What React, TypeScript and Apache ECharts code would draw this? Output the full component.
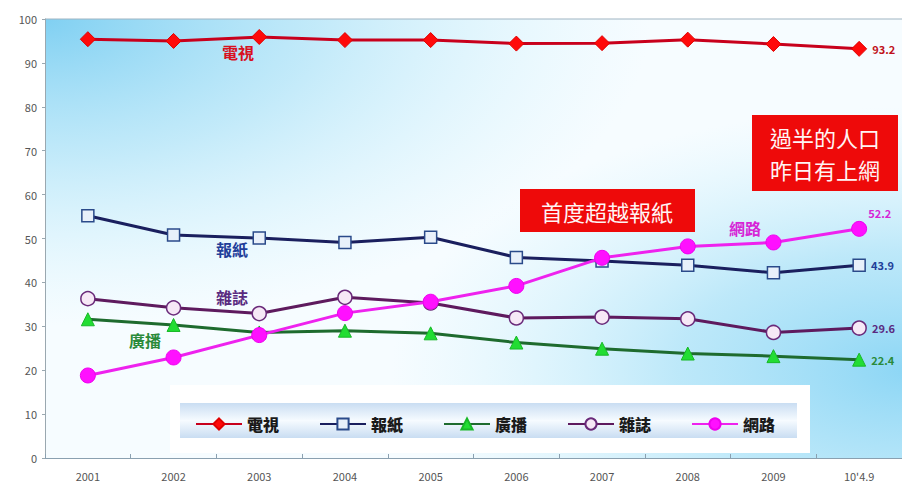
import React, { useEffect, useRef } from "react";
import * as echarts from "echarts";

const years = ["2001", "2002", "2003", "2004", "2005", "2006", "2007", "2008", "2009", "10'4.9"];
const seriesNames = ["電視", "報紙", "廣播", "雜誌", "網路"];
const tv = [95.4, 95.0, 95.9, 95.2, 95.2, 94.4, 94.5, 95.3, 94.3, 93.2];
const newspaper = [55.2, 50.8, 50.1, 49.1, 50.3, 45.7, 44.9, 43.9, 42.2, 43.9];
const radio = [31.6, 30.3, 28.6, 29.0, 28.4, 26.3, 24.9, 23.8, 23.2, 22.4];
const magazine = [36.3, 34.2, 32.9, 36.6, 35.3, 31.9, 32.1, 31.7, 28.6, 29.6];
const internet = [18.8, 22.9, 28.0, 33.0, 35.6, 39.2, 45.6, 48.2, 49.1, 52.2];
const yTicks = [0, 10, 20, 30, 40, 50, 60, 70, 80, 90, 100];
const noteFirst = "首度超越報紙";
const noteHalf = "過半的人口\n昨日有上網";

const FONT = "'Noto Sans CJK TC', 'Noto Sans', sans-serif";

function withEndLabel(values: number[], color: string, offset: number[]) {
  return values.map((v, i) =>
    i === values.length - 1
      ? {
          value: v,
          label: {
            show: true,
            position: "right",
            offset,
            formatter: String(v),
            color,
            fontSize: 11,
            fontWeight: "bold",
            fontFamily: FONT,
          },
        }
      : v
  );
}

const GRID_LEFT = 45;
const GRID_TOP = 19;
const GRID_W = 865;
const GRID_H = 439;

export default function App() {
  const ref = useRef<HTMLDivElement>(null);
  useEffect(() => {
    if (!ref.current) return;
    const chart = echarts.init(ref.current, null, { renderer: "svg" });
    const option: any = {
      animation: false,
      backgroundColor: "#ffffff",
      grid: {
        left: GRID_LEFT,
        top: GRID_TOP,
        width: GRID_W,
        height: GRID_H,
        show: true,
        borderWidth: 0,
        backgroundColor: "#f6fcff",
      },
      xAxis: {
        type: "category",
        data: years,
        boundaryGap: true,
        axisLine: { lineStyle: { color: "#8aa0b0", width: 1 } },
        axisTick: { show: true, inside: true, length: 4, lineStyle: { color: "#8aa0b0" } },
        axisLabel: { color: "#555", fontSize: 11, margin: 12, fontFamily: FONT },
        splitLine: { show: false },
        z: 8,
      },
      yAxis: {
        type: "value",
        min: yTicks[0],
        max: yTicks[yTicks.length - 1],
        interval: 10,
        axisLine: { show: true, lineStyle: { color: "#9aa8b0" } },
        axisTick: { show: true, length: 3, lineStyle: { color: "#9aa8b0" } },
        axisLabel: { color: "#555", fontSize: 11, margin: 8, fontFamily: FONT },
        splitLine: { show: false },
        z: 8,
      },
      legend: {
        data: seriesNames,
        left: 190,
        top: 411,
        itemWidth: 46,
        itemHeight: 14,
        itemGap: 40,
        textStyle: { color: "#1a1a1a", fontSize: 16, fontWeight: 900, fontFamily: FONT },
        z: 20,
      },
      graphic: [
        {
          type: "rect",
          shape: { x: GRID_LEFT, y: GRID_TOP, width: GRID_W, height: GRID_H },
          style: {
            fill: new echarts.graphic.RadialGradient(0, 0, 0.7, [
              { offset: 0, color: "rgba(128,208,242,1)" },
              { offset: 0.45, color: "rgba(160,222,246,0.6)" },
              { offset: 1, color: "rgba(200,240,252,0)" },
            ]),
          },
          silent: true,
          z: 1,
        },
        {
          type: "rect",
          shape: { x: GRID_LEFT, y: GRID_TOP, width: GRID_W, height: GRID_H },
          style: {
            fill: new echarts.graphic.RadialGradient(1, 0.8, 0.6, [
              { offset: 0, color: "rgba(140,214,245,1)" },
              { offset: 0.45, color: "rgba(165,224,247,0.7)" },
              { offset: 1, color: "rgba(200,240,252,0)" },
            ]),
          },
          silent: true,
          z: 1,
        },
        {
          type: "line",
          shape: { x1: GRID_LEFT, y1: GRID_TOP, x2: GRID_LEFT + GRID_W, y2: GRID_TOP },
          style: { stroke: "#9fb4c2", lineWidth: 1 },
          silent: true,
          z: 2,
        },
        {
          type: "rect",
          shape: { x: 170, y: 385, width: 640, height: 68 },
          style: { fill: "#ffffff" },
          z: 10,
        },
        {
          type: "rect",
          shape: { x: 180, y: 403, width: 617, height: 35 },
          style: {
            fill: new echarts.graphic.LinearGradient(0, 0, 0, 1, [
              { offset: 0, color: "#c9ddf2" },
              { offset: 0.5, color: "#f6fbff" },
              { offset: 1, color: "#c9ddf2" },
            ]),
          },
          z: 11,
        },
        {
          type: "rect",
          shape: { x: 520, y: 189, width: 175, height: 43 },
          style: { fill: "#ee0a0a" },
          z: 10,
        },
        {
          type: "text",
          x: 607,
          y: 211,
          style: {
            text: noteFirst,
            fill: "#fff4f4",
            fontSize: 22,
            fontFamily: FONT,
            align: "center",
            verticalAlign: "middle",
          },
          z: 11,
        },
        {
          type: "rect",
          shape: { x: 752, y: 115, width: 146, height: 76 },
          style: { fill: "#ee0a0a" },
          z: 10,
        },
        {
          type: "text",
          x: 825,
          y: 153,
          style: {
            text: noteHalf,
            fill: "#fff4f4",
            fontSize: 22,
            lineHeight: 32,
            fontFamily: FONT,
            align: "center",
            verticalAlign: "middle",
          },
          z: 11,
        },
        {
          type: "text",
          x: 238,
          y: 52,
          style: { text: "電視", fill: "#d8101e", fontSize: 16, fontWeight: "bold", fontFamily: FONT, align: "center", verticalAlign: "middle" },
          z: 11,
        },
        {
          type: "text",
          x: 232,
          y: 249,
          style: { text: "報紙", fill: "#1f3f9a", fontSize: 16, fontWeight: "bold", fontFamily: FONT, align: "center", verticalAlign: "middle" },
          z: 11,
        },
        {
          type: "text",
          x: 232,
          y: 297,
          style: { text: "雜誌", fill: "#5a2a80", fontSize: 16, fontWeight: "bold", fontFamily: FONT, align: "center", verticalAlign: "middle" },
          z: 11,
        },
        {
          type: "text",
          x: 145,
          y: 340,
          style: { text: "廣播", fill: "#2a8a3a", fontSize: 16, fontWeight: "bold", fontFamily: FONT, align: "center", verticalAlign: "middle" },
          z: 11,
        },
        {
          type: "text",
          x: 745,
          y: 228,
          style: { text: "網路", fill: "#d625d6", fontSize: 16, fontWeight: "bold", fontFamily: FONT, align: "center", verticalAlign: "middle" },
          z: 11,
        },
      ],
      series: [
        {
          name: "電視",
          type: "line",
          data: withEndLabel(tv, "#c0101a", [0, 0]),
          symbol: "diamond",
          symbolSize: 15,
          lineStyle: { color: "#c8001c", width: 3 },
          itemStyle: { color: "#ff0a0a", borderColor: "#e00000", borderWidth: 1 },
          z: 5,
        },
        {
          name: "報紙",
          type: "line",
          data: withEndLabel(newspaper, "#1f3f9a", [0, 0]),
          symbol: "rect",
          symbolSize: 12,
          lineStyle: { color: "#1a1f5e", width: 3 },
          itemStyle: { color: "#e8f0fa", borderColor: "#2a4a8a", borderWidth: 1.5 },
          z: 5,
        },
        {
          name: "廣播",
          type: "line",
          data: withEndLabel(radio, "#2a8a3a", [0, 0]),
          symbol: "triangle",
          symbolSize: 13,
          lineStyle: { color: "#1e6b2e", width: 3 },
          itemStyle: { color: "#22dd33", borderColor: "#18b828", borderWidth: 1 },
          z: 5,
        },
        {
          name: "雜誌",
          type: "line",
          data: withEndLabel(magazine, "#5a2a80", [0, 0]),
          symbol: "circle",
          symbolSize: 14,
          lineStyle: { color: "#5e1a5e", width: 3 },
          itemStyle: { color: "#f6e8f6", borderColor: "#6a2a7a", borderWidth: 1.5 },
          z: 5,
        },
        {
          name: "網路",
          type: "line",
          data: withEndLabel(internet, "#d625d6", [-4, -16]),
          symbol: "circle",
          symbolSize: 15,
          lineStyle: { color: "#ee22ee", width: 3 },
          itemStyle: { color: "#ff10ff", borderColor: "#ee00ee", borderWidth: 1 },
          z: 6,
        },
      ],
    };
    chart.setOption(option);
    return () => chart.dispose();
  }, []);
  return (
    <div
      ref={ref}
      style={{ position: "fixed", left: 0, top: 0, width: 902, height: 486 }}
    />
  );
}
